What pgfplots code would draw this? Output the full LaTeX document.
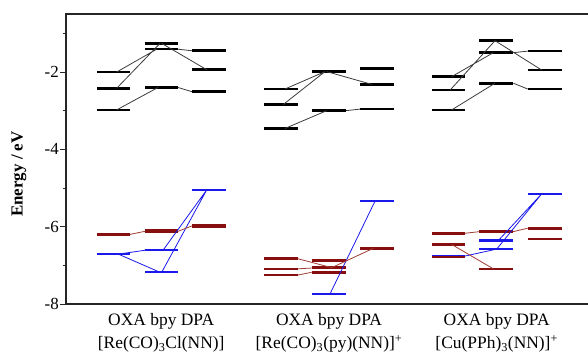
\documentclass[border=0pt]{standalone}
\usepackage{fontspec}
\setmainfont{Liberation Serif}
\usepackage{pgfplots}
\pgfplotsset{compat=1.18}
\definecolor{dred}{RGB}{135,15,15}
\definecolor{lred}{RGB}{160,60,50}
\definecolor{bblue}{RGB}{25,25,235}
\definecolor{lgray}{RGB}{60,60,60}
\pgfplotsset{levels/.style={only marks, mark size=0pt, mark options={draw=none, fill=none},
  error bars/.cd, x dir=both, x fixed=16.8, error mark=none}}
\begin{document}
\begin{tikzpicture}
\begin{axis}[
  at={(66bp,53bp)}, anchor=south west,
  scale only axis, width=534bp, height=290bp,
  xmin=66, xmax=600, ymin=-8, ymax=-0.5,
  axis line style={line width=1.1bp, black!85},
  ytick={-8,-6,-4,-2}, minor ytick={-7,-5,-3,-1},
  ytick pos=left, tick align=outside,
  major tick length=6bp, minor tick length=3bp,
  every tick/.style={line width=0.9bp, black!85},
  yticklabel style={font=\fontsize{17}{20}\selectfont, inner sep=1bp},
  /pgf/number format/assume math mode=true,
  xtick={161.2,329,496.7},
  xticklabels={{OXA bpy DPA\\{}[Re(CO)\textsubscript{3}Cl(NN)]},
               {OXA bpy DPA\\{}[Re(CO)\textsubscript{3}(py)(NN)]\textsuperscript{+}},
               {OXA bpy DPA\\{}[Cu(PPh)\textsubscript{3}(NN)]\textsuperscript{+}}},
  x tick style={draw=none},
  xticklabel style={align=center, font=\fontsize{17.5}{23}\selectfont, anchor=north},
  ylabel={\textbf{Energy / eV}},
  ylabel style={at={(axis description cs:-0.088,0.448)}, anchor=center, font=\fontsize{17}{20}\selectfont},
]
% blue levels
\addplot[levels, error bar style={bblue, line width=2.2bp}] coordinates {
  (113.3,-6.71) (161.5,-6.61) (161.5,-7.18) (208.8,-5.05)
  (328.8,-7.74) (377,-5.34)
  (448.3,-6.76) (496,-6.36) (496,-6.58) (544.7,-5.15)
};
% red levels
\addplot[levels, error bar style={dred, line width=2.6bp}] coordinates {
  (113.3,-6.20) (161.5,-6.10) (161.5,-6.14) (208.8,-5.97) (208.8,-6.00)
  (280.8,-6.83) (280.8,-7.09) (280.8,-7.25) (328.8,-6.88) (328.8,-7.06) (328.8,-7.18) (377,-6.56)
  (448.3,-6.17) (448.3,-6.46) (448.3,-6.78) (496,-6.13) (496,-7.09) (544.7,-6.04) (544.7,-6.32)
};
% black levels
\addplot[levels, error bar style={black, line width=2.6bp}] coordinates {
  (113.3,-2.00) (113.3,-2.42) (113.3,-2.98) (161.5,-1.26) (161.5,-1.41) (161.5,-2.40)
  (208.8,-1.45) (208.8,-1.94) (208.8,-2.51)
  (280.8,-2.44) (280.8,-2.84) (280.8,-3.46) (328.8,-1.97) (328.8,-2.00) (328.8,-3.00)
  (377,-1.91) (377,-2.32) (377,-2.96)
  (448.3,-2.12) (448.3,-2.47) (448.3,-2.98) (496,-1.19) (496,-1.50) (496,-2.29)
  (544.7,-1.46) (544.7,-1.95) (544.7,-2.44)
};
% black connecting lines
\addplot[lgray, no markers, line width=0.8bp, unbounded coords=jump] coordinates {
  (116.7,-2.42) (160,-1.26) (nan,nan)
  (116.7,-2.00) (156.7,-1.41) (nan,nan)
  (161.7,-1.26) (206.7,-1.94) (nan,nan)
  (178,-1.41) (192,-1.45) (nan,nan)
  (178,-2.40) (192,-2.51) (nan,nan)
  (116.7,-2.98) (158,-2.40) (nan,nan)
  (285,-2.44) (325,-1.99) (nan,nan)
  (283.3,-2.84) (325,-1.99) (nan,nan)
  (326.7,-1.99) (371.7,-2.32) (nan,nan)
  (285,-3.46) (326.7,-3.00) (nan,nan)
  (346,-3.00) (360,-2.96) (nan,nan)
  (451.7,-2.12) (493.3,-1.50) (nan,nan)
  (450,-2.47) (495,-1.19) (nan,nan)
  (495,-1.19) (541.7,-1.95) (nan,nan)
  (513.3,-1.50) (527.7,-1.46) (nan,nan)
  (451.7,-2.98) (495,-2.29) (nan,nan)
  (513.3,-2.29) (527.7,-2.44)
};
% blue connecting lines
\addplot[bblue, no markers, line width=0.8bp, unbounded coords=jump] coordinates {
  (118.3,-6.71) (145,-6.61) (nan,nan)
  (118.3,-6.71) (160,-7.18) (nan,nan)
  (163,-6.61) (206.7,-5.05) (nan,nan)
  (161.7,-7.18) (206.7,-5.05) (nan,nan)
  (330,-7.74) (375,-5.34) (nan,nan)
  (465,-6.76) (496.7,-6.58) (nan,nan)
  (498.3,-6.36) (541.7,-5.15) (nan,nan)
  (496.7,-6.58) (541.7,-5.15)
};
% red connecting lines
\addplot[lred, no markers, line width=0.8bp, unbounded coords=jump] coordinates {
  (130,-6.20) (145,-6.12) (nan,nan)
  (178,-6.12) (192,-5.98) (nan,nan)
  (298,-6.83) (331.7,-7.06) (nan,nan)
  (331.7,-7.06) (373.3,-6.56) (nan,nan)
  (346.7,-6.88) (373.3,-6.56) (nan,nan)
  (298,-7.09) (311.7,-7.07) (nan,nan)
  (298,-7.25) (311.7,-7.18) (nan,nan)
  (465,-6.17) (479,-6.13) (nan,nan)
  (513,-6.13) (527.7,-6.04) (nan,nan)
  (451.7,-6.46) (493.3,-7.09)
};
\end{axis}
\pgfresetboundingbox
\useasboundingbox (0,0) rectangle (588bp,357bp);
\end{tikzpicture}
\end{document}
